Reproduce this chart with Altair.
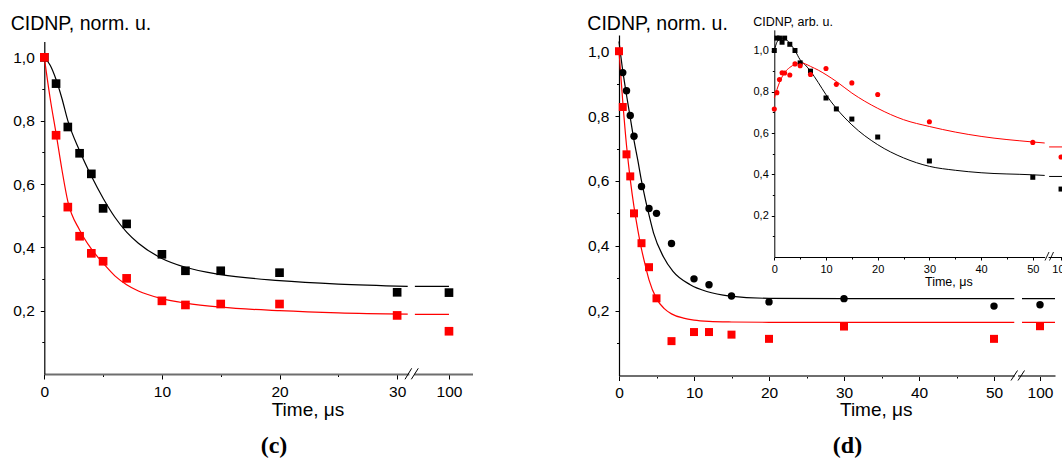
import altair as alt
import pandas as pd

# ---------------- data: panel (c) ----------------
c_t = [0, 1, 2, 3, 4, 5, 7, 10, 12, 15, 20, 30]
c_black = [1.0, 0.917, 0.780, 0.697, 0.632, 0.523, 0.474, 0.378, 0.326, 0.326, 0.320, 0.258]
c_red = [1.0, 0.754, 0.527, 0.435, 0.381, 0.356, 0.302, 0.231, 0.218, 0.221, 0.221, 0.185]
c_t_late = [100]
c_black_late = [0.257]
c_red_late = [0.135]
c_fit_t = [0, 0.5, 1, 1.5, 2, 3, 4, 5, 6, 7, 8, 10, 12, 15, 20, 25, 30.9]
c_fit_black = [1.0, 0.975, 0.93, 0.87, 0.80, 0.705, 0.625, 0.555, 0.495, 0.448, 0.413, 0.365, 0.337, 0.314, 0.295, 0.284, 0.277]
c_fit_red = [1.0, 0.87, 0.76, 0.645, 0.545, 0.455, 0.395, 0.35, 0.31, 0.282, 0.262, 0.238, 0.224, 0.211, 0.2, 0.193, 0.189]
c_fit_t_late = [97.1, 100]
c_fit_black_late = [0.277, 0.277]
c_fit_red_late = [0.188, 0.188]

# ---------------- data: panel (d) ----------------
d_t_black = [0.5, 1, 1.5, 2, 3, 4, 5, 7, 10, 12, 15, 20, 30, 50]
d_black = [0.934, 0.878, 0.802, 0.738, 0.583, 0.515, 0.500, 0.407, 0.298, 0.280, 0.245, 0.227, 0.237, 0.214]
d_t_red = [0, 0.5, 1, 1.5, 2, 3, 4, 5, 7, 10, 12, 15, 20, 30, 50]
d_red = [1.0, 0.828, 0.682, 0.614, 0.500, 0.408, 0.334, 0.238, 0.106, 0.134, 0.134, 0.126, 0.113, 0.151, 0.113]
d_t_late = [100]
d_black_late = [0.218]
d_red_late = [0.152]
d_fit_t_black = [0, 0.5, 1, 1.5, 2, 2.5, 3, 3.5, 4, 4.6, 5.9, 7.2, 9.5, 11.7, 14.8, 20, 30, 52.7]
d_fit_black = [1.03, 0.94, 0.865, 0.795, 0.725, 0.665, 0.60, 0.545, 0.495, 0.44, 0.367, 0.321, 0.28, 0.259, 0.245, 0.238, 0.237, 0.237]
d_fit_t_red = [0, 0.5, 1, 1.5, 2, 2.5, 3, 3.5, 4, 5, 6, 7, 8.6, 10, 12, 15, 20, 52.7]
d_fit_red = [1.0, 0.845, 0.71, 0.605, 0.52, 0.45, 0.39, 0.34, 0.295, 0.237, 0.207, 0.19, 0.177, 0.171, 0.167, 0.165, 0.164, 0.164]
d_fit_t_late = [97.6, 102]
d_fit_black_late = [0.237, 0.237]
d_fit_red_late = [0.164, 0.164]

# ---------------- data: inset of (d) ----------------
i_t = [0, 0.5, 1, 1.5, 2, 3, 4, 5, 7, 10, 12, 15, 20, 30, 50]
i_black = [1.0, 1.06, 1.06, 1.04, 1.06, 1.03, 1.0, 0.94, 0.90, 0.77, 0.717, 0.668, 0.581, 0.465, 0.386]
i_red = [0.717, 0.796, 0.859, 0.892, 0.891, 0.881, 0.935, 0.926, 0.884, 0.913, 0.836, 0.843, 0.787, 0.655, 0.555]
i_t_late = [100]
i_black_late = [0.329]
i_red_late = [0.484]
i_fit_t = [0, 0.5, 1, 1.5, 2, 3, 4, 5, 6, 7, 8.5, 10, 12, 15, 20, 25, 30, 35, 40, 50, 52.3]
i_fit_black = [1.0, 1.04, 1.055, 1.06, 1.058, 1.035, 1.0, 0.955, 0.93, 0.90, 0.845, 0.786, 0.72, 0.64, 0.544, 0.48, 0.439, 0.42, 0.408, 0.398, 0.395]
i_fit_red = [0.77, 0.81, 0.845, 0.872, 0.893, 0.918, 0.933, 0.94, 0.935, 0.923, 0.905, 0.883, 0.85, 0.794, 0.72, 0.665, 0.632, 0.605, 0.584, 0.557, 0.552]
i_fit_t_late = [97.7, 102]
i_fit_black_late = [0.39, 0.39]
i_fit_red_late = [0.533, 0.533]

# ---------------- text ----------------
y_title = "CIDNP, norm. u."
inset_y_title = "CIDNP, arb. u."
x_title = "Time, \u03bcs"
label_c = "(c)"
label_d = "(d)"

# ---------------- style / geometry ----------------
W, H = 1062, 459
FONT = "Liberation Sans"
SERIF = "Liberation Serif"
RED = "#ff0000"
BLACK = "#000000"
AXGREY = "#6e6e6e"
COMMA = "replace(format(datum.value, '.1f'), '.', ',')"


def sc(domain, rng):
    return alt.Scale(domain=domain, range=rng, nice=False, zero=False)


def xaxis(values, ypix, tick, labels=True, domain=True, dcolor=AXGREY, dwidth=2.0, fs=15.5, pad=5):
    kw = dict(orient="bottom", offset=ypix - H, values=values, tickSize=tick, tickColor=BLACK,
              tickWidth=1, labels=labels, domain=domain, grid=False, title=None,
              labelFlush=False, labelOverlap=False, labelFont=FONT, labelFontSize=fs,
              labelColor=BLACK, labelPadding=pad, format="d")
    if domain:
        kw.update(domainColor=dcolor, domainWidth=dwidth)
    return alt.Axis(**kw)


def yaxis(values, xpix, tick, labels=True, domain=True, fs=15.5, pad=6, dwidth=1.2):
    kw = dict(orient="left", offset=-xpix, values=values, tickSize=tick, tickColor=BLACK,
              tickWidth=1, labels=labels, domain=domain, grid=False, title=None,
              labelFlush=False, labelOverlap=False, labelFont=FONT, labelFontSize=fs,
              labelColor=BLACK, labelPadding=pad, labelExpr=COMMA)
    if domain:
        kw.update(domainColor=BLACK, domainWidth=dwidth)
    return alt.Axis(**kw)


def pts(t, v, xs, ys, shape, color, size, xax=None, yax=None):
    df = pd.DataFrame({"t": t, "v": v})
    return alt.Chart(df).mark_point(shape=shape, filled=True, color=color, size=size,
                                    opacity=1, strokeWidth=0).encode(
        x=alt.X("t:Q", scale=xs, axis=xax), y=alt.Y("v:Q", scale=ys, axis=yax))


def line(t, v, xs, ys, color, width=1.2, xax=None, yax=None):
    df = pd.DataFrame({"t": t, "v": v})
    return alt.Chart(df).mark_line(color=color, strokeWidth=width, interpolate="monotone").encode(
        x=alt.X("t:Q", scale=xs, axis=xax), y=alt.Y("v:Q", scale=ys, axis=yax))


def txt(s, x, y, size, font=FONT, weight="normal", align="left"):
    return alt.Chart(pd.DataFrame({"s": [s]})).mark_text(
        align=align, baseline="alphabetic", fontSize=size, font=font, fontWeight=weight,
        color=BLACK).encode(text="s:N", x=alt.value(x), y=alt.value(y))


def slash(x1, y1, x2, y2, width=1.0):
    return alt.Chart(pd.DataFrame({"a": [0]})).mark_rule(color=BLACK, strokeWidth=width).encode(
        x=alt.value(x1), x2=alt.value(x2), y=alt.value(y1), y2=alt.value(y2))


layers = []

# ================= panel (c) =================
cY0, cX0 = 374.0, 44.3
cy = sc([0, 1.05], [cY0, 41.5])
cx = sc([0, 31], [cX0, 408.9])
cxb = sc([97, 102], [413.7, 472.5])
major_y = [0.2, 0.4, 0.6, 0.8, 1.0]
minor_y = [0.1, 0.3, 0.5, 0.7, 0.9]

layers += [
    line(c_fit_t, c_fit_black, cx, cy, BLACK,
         xax=xaxis([5, 15, 25], cY0, 2.5, labels=False, domain=False),
         yax=yaxis(minor_y, cX0, 2.5, labels=False, domain=False)),
    line(c_fit_t, c_fit_red, cx, cy, RED),
    line(c_fit_t_late, c_fit_black_late, cxb, cy, BLACK),
    line(c_fit_t_late, c_fit_red_late, cxb, cy, RED),
    pts(c_t, c_black, cx, cy, "square", BLACK, 75,
        xax=xaxis([0, 10, 20, 30], cY0, 5), yax=yaxis(major_y, cX0, 4)),
    pts(c_t, c_red, cx, cy, "square", RED, 75),
    pts(c_t_late, c_black_late, cxb, cy, "square", BLACK, 75, xax=xaxis([100], cY0, 5)),
    pts(c_t_late, c_red_late, cxb, cy, "square", RED, 75),
    slash(405, 379.3, 411.7, 368.3),
    slash(411.3, 379.3, 418.3, 368.3),
    txt(y_title, 10.7, 30, 19.5),
    txt(x_title, 271.7, 416, 19),
    txt(label_c, 274, 453, 24, font=SERIF, weight="bold", align="center"),
]

# ================= panel (d) =================
dY0, dX0 = 375.5, 619.0
dy = sc([0, 1.05], [dY0, 35.0])
dx = sc([0, 52.7], [dX0, dX0 + 52.7 * 7.5])
dxb = sc([97, 102], [1017.5, 1055.0])

layers += [
    line(d_fit_t_black, d_fit_black, dx, dy, BLACK,
         xax=xaxis([5, 15, 25, 35, 45], dY0, 2.5, labels=False, domain=False),
         yax=yaxis(minor_y, dX0, 2.5, labels=False, domain=False)),
    line(d_fit_t_red, d_fit_red, dx, dy, RED),
    line(d_fit_t_late, d_fit_black_late, dxb, dy, BLACK),
    line(d_fit_t_late, d_fit_red_late, dxb, dy, RED),
    pts(d_t_black, d_black, dx, dy, "circle", BLACK, 55,
        xax=xaxis([0, 10, 20, 30, 40, 50], dY0, 5), yax=yaxis(major_y, dX0, 4)),
    pts(d_t_red, d_red, dx, dy, "square", RED, 64),
    pts(d_t_late, d_black_late, dxb, dy, "circle", BLACK, 55, xax=xaxis([100], dY0, 5)),
    pts(d_t_late, d_red_late, dxb, dy, "square", RED, 64),
    slash(1011.0, 380.5, 1017.5, 370.5),
    slash(1018.0, 380.5, 1024.5, 370.5),
    txt(y_title, 587.3, 30, 19.5),
    txt(x_title, 840, 416, 19),
    txt(label_d, 847.5, 453, 24, font=SERIF, weight="bold", align="center"),
]

# ================= inset =================
iY0, iX0 = 257.0, 774.3
iy = sc([0, 1.1], [iY0, iY0 - 1.1 * 206.5])
ix = sc([0, 52.3], [iX0, iX0 + 52.3 * 5.17])
ixb = sc([97.5, 102], [1048.1, 1071.4])

layers += [
    line(i_fit_t, i_fit_black, ix, iy, BLACK, width=1.0,
         xax=xaxis([5, 15, 25, 35, 45], iY0, 2, labels=False, domain=False),
         yax=yaxis(minor_y, iX0, 2, labels=False, domain=False)),
    line(i_fit_t, i_fit_red, ix, iy, RED, width=1.0),
    line(i_fit_t_late, i_fit_black_late, ixb, iy, BLACK, width=1.0),
    line(i_fit_t_late, i_fit_red_late, ixb, iy, RED, width=1.0),
    pts(i_t, i_black, ix, iy, "square", BLACK, 25,
        xax=xaxis([0, 10, 20, 30, 40, 50], iY0, 3, dcolor=BLACK, dwidth=1.0, fs=11, pad=3),
        yax=yaxis(major_y, iX0, 3, fs=11, pad=3, dwidth=1.0)),
    pts(i_t, i_red, ix, iy, "circle", RED, 26),
    pts(i_t_late, i_black_late, ixb, iy, "square", BLACK, 25,
        xax=xaxis([100], iY0, 3, dcolor=BLACK, dwidth=1.0, fs=11, pad=3)),
    pts(i_t_late, i_red_late, ixb, iy, "circle", RED, 26),
    slash(1045.0, 260.5, 1049.0, 252.0, 0.9),
    slash(1049.5, 260.5, 1053.5, 252.0, 0.9),
    txt(inset_y_title, 753.3, 25.5, 12.5),
    txt(x_title, 925, 286, 12.5),
]

chart = alt.layer(*layers).resolve_scale(x="independent", y="independent").properties(
    width=W, height=H, autosize="none", padding=0, background="white"
).configure_view(stroke=None)

chart.save("out.html", embed_options={"renderer": "svg", "actions": False})
